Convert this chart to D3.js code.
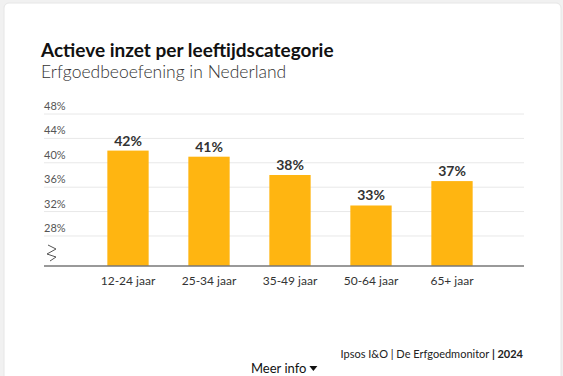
<!DOCTYPE html>
<html>
<head>
<meta charset="utf-8">
<script src="https://cdn.jsdelivr.net/npm/d3@7"></script>
<style>
  html, body { margin: 0; padding: 0; background: #f1f1f1; }
  svg { display: block; font-family: Lato, "Open Sans", sans-serif; }
</style>
</head>
<body>
<svg id="chart" width="563" height="376"></svg>
<script>
const categories = ['12-24 jaar', '25-34 jaar', '35-49 jaar', '50-64 jaar', '65+ jaar'];
const values = [42, 41, 38, 33, 37];
const yTicks = [28, 32, 36, 40, 44, 48];

const width = 563;
const height = 376;
const svg = d3.select('#chart');

// card
svg.append('rect')
  .attr('x', 4).attr('y', 3)
  .attr('width', 557).attr('height', 400)
  .attr('rx', 5)
  .attr('fill', '#fff')
  .attr('stroke', '#e6e6e6');

svg.append('text')
  .attr('x', 41).attr('y', 57)
  .attr('font-size', 19).attr('font-weight', 700)
  .attr('fill', '#111')
  .text('Actieve inzet per leeftijdscategorie');

svg.append('text')
  .attr('x', 41).attr('y', 78)
  .attr('font-size', 17.5).attr('font-weight', 300)
  .attr('fill', '#333')
  .text('Erfgoedbeoefening in Nederland');

const left = 44, right = 524, baseY = 266;

const y = d3.scaleLinear().domain([23.08, 48]).range([baseY, 114]);
const x = d3.scaleBand()
  .domain(categories)
  .range([87.5, 492.5])
  .paddingInner(0.49)
  .paddingOuter(0.245);

// grid
const grid = svg.append('g');
grid.selectAll('line')
  .data(yTicks)
  .join('line')
  .attr('x1', left).attr('x2', right)
  .attr('y1', d => y(d)).attr('y2', d => y(d))
  .attr('stroke', '#e8e8e8')
  .attr('stroke-width', 1);

grid.selectAll('text')
  .data(yTicks)
  .join('text')
  .attr('x', left)
  .attr('y', d => y(d) - 4)
  .attr('font-size', 11)
  .attr('fill', '#555')
  .text(d => d + '%');

// broken axis mark
svg.append('path')
  .attr('d', 'M48,245 L56,249 L47,254 L56,257 L50,261')
  .attr('fill', 'none')
  .attr('stroke', '#555')
  .attr('stroke-width', 1);

// bars
svg.append('g').selectAll('rect')
  .data(values)
  .join('rect')
  .attr('x', (d, i) => x(categories[i]))
  .attr('y', d => y(d))
  .attr('width', x.bandwidth())
  .attr('height', d => baseY - y(d))
  .attr('fill', '#ffb511');

svg.append('g').selectAll('text')
  .data(values)
  .join('text')
  .attr('x', (d, i) => x(categories[i]) + x.bandwidth() / 2)
  .attr('y', d => y(d) - 5)
  .attr('text-anchor', 'middle')
  .attr('font-size', 14).attr('font-weight', 700)
  .attr('fill', '#333')
  .text(d => d + '%');

// baseline
svg.append('line')
  .attr('x1', left).attr('x2', right)
  .attr('y1', baseY).attr('y2', baseY)
  .attr('stroke', '#777')
  .attr('stroke-width', 1.5);

// x labels
svg.append('g').selectAll('text')
  .data(categories)
  .join('text')
  .attr('x', d => x(d) + x.bandwidth() / 2)
  .attr('y', 285)
  .attr('text-anchor', 'middle')
  .attr('font-size', 12)
  .attr('fill', '#333')
  .text(d => d);

// source
const src = svg.append('text')
  .attr('x', 523).attr('y', 358)
  .attr('text-anchor', 'end')
  .attr('font-size', 11)
  .attr('fill', '#222');
src.append('tspan').text('Ipsos I&O | De Erfgoedmonitor ');
src.append('tspan').attr('font-weight', 700).text('| 2024');

const info = svg.append('text')
  .attr('x', 251).attr('y', 373)
  .attr('font-size', 13)
  .attr('fill', '#111')
  .text('Meer info');
const infoEnd = 251 + info.node().getComputedTextLength() + 3;
svg.append('path')
  .attr('d', `M${infoEnd},366 L${infoEnd + 8},366 L${infoEnd + 4},371 Z`)
  .attr('fill', '#111');
</script>
</body>
</html>
